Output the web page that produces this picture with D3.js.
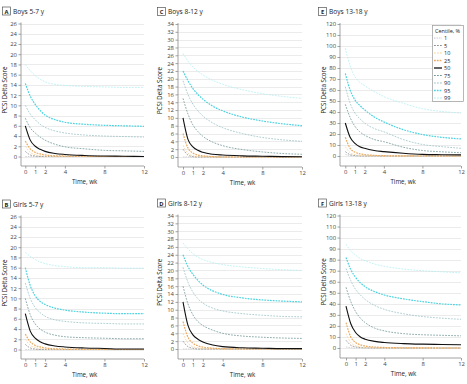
<!DOCTYPE html>
<html><head><meta charset="utf-8">
<script src="https://cdn.jsdelivr.net/npm/d3@7"></script>
<style>body{margin:0;background:#fff}svg{display:block}text{font-family:"Open Sans","Liberation Sans",sans-serif}</style>
</head><body><svg id="chart" width="467" height="384"></svg>
<script>
// ---- data ----
const weeks = [0, 0.5, 1, 1.5, 2, 3, 4, 6, 8, 10, 12];
const xTickValues = [0, 1, 2, 4, 8, 12];
const centiles = ["1", "5", "10", "25", "50", "75", "90", "95", "99"];
const ticksSmall = d3.range(0, 27, 2);   // 0..26
const ticksMid = d3.range(0, 35, 2);     // 0..34
const ticksLarge = d3.range(0, 121, 10); // 0..120

// each row: centile 1,5,10,25,50,75,90,95,99 at weeks above
const boys5to7 = [
  [0, 0, 0, 0, 0, 0, 0, 0, 0, 0, 0],
  [1, 0.3, 0.1, 0, 0, 0, 0, 0, 0, 0, 0],
  [2, 0.8, 0.35, 0.15, 0.05, 0, 0, 0, 0, 0, 0],
  [3, 1.5, 0.8, 0.5, 0.3, 0.15, 0.1, 0.05, 0, 0, 0],
  [6, 3.2, 2.0, 1.4, 1.0, 0.6, 0.4, 0.2, 0.1, 0.05, 0],
  [7.5, 5.6, 4.6, 3.8, 3.2, 2.4, 1.9, 1.5, 1.2, 1.1, 1.0],
  [10, 8.3, 7.2, 6.3, 5.7, 5.0, 4.6, 4.2, 4.0, 3.9, 3.8],
  [14.3, 11.8, 10.2, 9.0, 8.1, 7.2, 6.7, 6.3, 6.1, 6.0, 5.9],
  [18, 16.8, 15.8, 15.1, 14.6, 14.1, 13.9, 13.7, 13.6, 13.5, 13.5]
];
const girls5to7 = [
  [0, 0, 0, 0, 0, 0, 0, 0, 0, 0, 0],
  [1, 0.3, 0.1, 0, 0, 0, 0, 0, 0, 0, 0],
  [2, 0.8, 0.4, 0.2, 0.1, 0, 0, 0, 0, 0, 0],
  [3, 1.5, 0.8, 0.5, 0.3, 0.15, 0.1, 0.05, 0, 0, 0],
  [7, 3.6, 2.2, 1.5, 1.1, 0.7, 0.5, 0.3, 0.2, 0.1, 0.1],
  [10, 6.8, 5.0, 4.0, 3.4, 2.8, 2.5, 2.3, 2.2, 2.1, 2.1],
  [13, 10, 8.2, 7.2, 6.5, 5.8, 5.5, 5.2, 5.1, 5.0, 5.0],
  [16, 12.5, 10.5, 9.4, 8.8, 8.1, 7.7, 7.3, 7.1, 7.0, 7.0],
  [19, 18.2, 17.6, 17.1, 16.8, 16.4, 16.2, 16.0, 16.0, 15.9, 15.9]
];
const boys8to12 = [
  [0, 0, 0, 0, 0, 0, 0, 0, 0, 0, 0],
  [2, 0.5, 0.1, 0, 0, 0, 0, 0, 0, 0, 0],
  [3, 1.0, 0.3, 0.1, 0, 0, 0, 0, 0, 0, 0],
  [6, 2.3, 1.0, 0.5, 0.3, 0.1, 0, 0, 0, 0, 0],
  [10, 4.5, 2.6, 1.7, 1.2, 0.7, 0.5, 0.3, 0.2, 0.1, 0.05],
  [15, 11, 8.2, 6.5, 5.3, 3.8, 2.9, 1.9, 1.3, 0.9, 0.7],
  [19.5, 16, 13.5, 11.8, 10.5, 8.7, 7.5, 6.0, 5.0, 4.4, 4.0],
  [22, 19.5, 17.5, 16, 14.8, 13, 11.8, 10.2, 9.2, 8.5, 8.0],
  [26.5, 24.5, 23, 21.9, 21, 19.6, 18.6, 17.2, 16.2, 15.5, 15.0]
];
const girls8to12 = [
  [0, 0, 0, 0, 0, 0, 0, 0, 0, 0, 0],
  [2, 0.6, 0.2, 0, 0, 0, 0, 0, 0, 0, 0],
  [4, 1.5, 0.6, 0.3, 0.1, 0, 0, 0, 0, 0, 0],
  [7, 3, 1.5, 0.8, 0.5, 0.2, 0.1, 0, 0, 0, 0],
  [12, 6, 3.6, 2.5, 1.8, 1.0, 0.6, 0.3, 0.2, 0.1, 0.1],
  [16, 11.5, 8.7, 7.0, 6.0, 4.8, 4.0, 3.3, 3.0, 2.8, 2.7],
  [20.8, 17, 14.5, 12.8, 11.7, 10.4, 9.7, 9.0, 8.6, 8.3, 8.2],
  [24, 21, 19, 17.5, 16.3, 14.8, 13.9, 13, 12.5, 12.2, 12.0],
  [27, 25.5, 24.3, 23.4, 22.8, 22, 21.5, 20.9, 20.5, 20.2, 20]
];
const boys13to18 = [
  [1.5, 0.3, 0, 0, 0, 0, 0, 0, 0, 0, 0],
  [4, 1.2, 0.4, 0.1, 0, 0, 0, 0, 0, 0, 0],
  [8.5, 3, 1.2, 0.5, 0.2, 0, 0, 0, 0, 0, 0],
  [17, 7, 3.5, 2, 1.3, 0.6, 0.3, 0.1, 0, 0, 0],
  [30, 17, 11.5, 8.5, 7, 5, 4, 2.5, 1.5, 1.2, 1],
  [47, 35, 27, 22, 19, 15, 13, 8, 5, 3.8, 3],
  [63, 48, 39, 34, 30, 25, 22, 15, 10.5, 8.5, 7],
  [75, 60, 51, 46, 42, 35.5, 31, 24, 19.5, 17, 15.5],
  [98, 82, 72, 67, 64, 58.5, 54, 48, 43, 40.5, 39]
];
const girls13to18 = [
  [1, 0.3, 0, 0, 0, 0, 0, 0, 0, 0, 0],
  [7, 2.5, 1, 0.4, 0.2, 0, 0, 0, 0, 0, 0],
  [13, 5, 2, 1, 0.5, 0.2, 0.1, 0, 0, 0, 0],
  [23, 10, 5, 2.8, 1.8, 0.9, 0.5, 0.2, 0.1, 0, 0],
  [38, 22, 14, 10, 8, 6, 5, 4, 3.5, 3.2, 3],
  [55, 42, 33, 27, 23, 18, 15.5, 13, 12, 11.5, 11],
  [72, 61, 53, 48, 44, 38.5, 35, 31, 28.5, 27, 26],
  [82, 71, 64, 59, 55.5, 51, 48, 44.5, 42, 40, 39],
  [94, 88, 84, 81, 79, 76, 74, 71.5, 70, 69, 68]
];

// ---- styles ----
const lineColors = ["#c8c8c8", "#8f8f8f", "#f6d399", "#ebaa62", "#111111", "#729899", "#9cc3c6", "#4fd3e0", "#b3eff3"];
const lineWidths = [0.8, 0.8, 0.8, 1.2, 1.1, 0.8, 0.8, 1.2, 0.8];
const lineDash = ["1.5,1", "1.8,1.2", "1.8,1.2", "1.8,1", null, "1.8,1.2", "1.8,1.2", "1.8,1", "1.8,1.2"];

const svg = d3.select("#chart");

const panels = [
  {letter: "A", title: "Boys 5-7 y", data: boys5to7, ticks: ticksSmall, axisX: 21, x0: 25.3, x1: 144, top: 23.5, y0: 156.5, axisY: 166, labelX: 5, boxX: 2},
  {letter: "C", title: "Boys 8-12 y", data: boys8to12, ticks: ticksMid, axisX: 178, x0: 183, x1: 302, top: 24, y0: 157, axisY: 167, labelX: 160, boxX: 157},
  {letter: "E", title: "Boys 13-18 y", data: boys13to18, ticks: ticksLarge, axisX: 340, x0: 345.3, x1: 461, top: 24, y0: 156, axisY: 166, labelX: 324, boxX: 318, legend: true},
  {letter: "B", title: "Girls 5-7 y", data: girls5to7, ticks: ticksSmall, axisX: 21, x0: 25.3, x1: 144, top: 216.5, y0: 349.5, axisY: 359, labelX: 5, boxX: 2},
  {letter: "D", title: "Girls 8-12 y", data: girls8to12, ticks: ticksMid, axisX: 178, x0: 183, x1: 302, top: 215.5, y0: 349, axisY: 359, labelX: 160, boxX: 157},
  {letter: "F", title: "Girls 13-18 y", data: girls13to18, ticks: ticksLarge, axisX: 340, x0: 346, x1: 461, top: 215.5, y0: 348, axisY: 358, labelX: 324, boxX: 318}
];

panels.forEach(p => {
  const g = svg.append("g");
  const yMax = p.ticks[p.ticks.length - 1];
  const x = d3.scaleLinear().domain([0, 12]).range([p.x0, p.x1]);
  const y = d3.scaleLinear().domain([0, yMax]).range([p.y0, p.top]);

  // title
  const titleY = p.top - 12;
  g.append("rect").attr("x", p.boxX + 0.5).attr("y", titleY - 4.5).attr("width", 8).attr("height", 8)
    .attr("fill", "#fff").attr("stroke", "#555").attr("stroke-width", 0.7);
  g.append("text").attr("x", p.boxX + 4.5).attr("y", titleY + 2.2).attr("text-anchor", "middle")
    .attr("font-size", 5.8).attr("font-weight", "bold").attr("fill", "#222").text(p.letter);
  g.append("text").attr("x", p.boxX + 11).attr("y", titleY + 2.4)
    .attr("font-size", 6.6).attr("fill", "#222").text(p.title);

  // gridlines
  g.append("g").selectAll("line").data(p.ticks).join("line")
    .attr("x1", p.axisX).attr("x2", p.x1)
    .attr("y1", d => Math.round(y(d)) + 0.5).attr("y2", d => Math.round(y(d)) + 0.5)
    .attr("stroke", "#e6e6e6").attr("stroke-width", 0.8);

  // y axis
  const yAxis = d3.axisLeft(y).tickValues(p.ticks).tickSize(2.5).tickPadding(1.5).tickFormat(d3.format("d"));
  const ya = g.append("g").attr("transform", `translate(${p.axisX},0)`).call(yAxis);
  ya.select(".domain").remove();
  ya.append("line").attr("x1", 0).attr("x2", 0).attr("y1", p.top - 1).attr("y2", p.axisY).attr("stroke", "#8a8a8a").attr("stroke-width", 0.8);
  ya.selectAll(".tick line").attr("stroke", "#8a8a8a").attr("stroke-width", 0.8);
  ya.selectAll(".tick text").attr("font-size", 5.9).attr("fill", "#444").attr("font-family", "'Open Sans','Liberation Sans',sans-serif");

  // x axis
  const xAxis = d3.axisBottom(x).tickValues(xTickValues).tickSize(2.5).tickPadding(1.5).tickFormat(d3.format("d"));
  const xa = g.append("g").attr("transform", `translate(0,${p.axisY})`).call(xAxis);
  xa.select(".domain").remove();
  xa.append("line").attr("x1", p.axisX).attr("x2", p.x1).attr("y1", 0).attr("y2", 0).attr("stroke", "#8a8a8a").attr("stroke-width", 0.8);
  xa.selectAll(".tick line").attr("stroke", "#8a8a8a").attr("stroke-width", 0.8);
  xa.selectAll(".tick text").attr("font-size", 5.9).attr("fill", "#444").attr("font-family", "'Open Sans','Liberation Sans',sans-serif");

  // axis labels
  g.append("text").attr("transform", `translate(${p.labelX + 2},${(p.top + p.y0) / 2}) rotate(-90)`)
    .attr("text-anchor", "middle").attr("font-size", 6.2).attr("fill", "#222").text("PCSI Delta Score");
  g.append("text").attr("x", (p.x0 + p.x1) / 2).attr("y", p.axisY + 17.5)
    .attr("text-anchor", "middle").attr("font-size", 6.2).attr("fill", "#222").text("Time, wk");

  // curves
  const line = d3.line().x((d, i) => x(weeks[i])).y(d => y(d)).curve(d3.curveMonotoneX);
  p.data.forEach((vals, ci) => {
    g.append("path").attr("d", line(vals)).attr("fill", "none")
      .attr("stroke", lineColors[ci]).attr("stroke-width", lineWidths[ci])
      .attr("stroke-dasharray", lineDash[ci]);
  });

  // legend
  if (p.legend) {
    const lg = g.append("g");
    lg.append("rect").attr("x", 432.5).attr("y", 25.5).attr("width", 31).attr("height", 76)
      .attr("fill", "#fff").attr("stroke", "#999").attr("stroke-width", 0.7);
    lg.append("text").attr("x", 435).attr("y", 32.5).attr("font-size", 5.5).attr("fill", "#222").text("Centile, %");
    centiles.forEach((c, ci) => {
      const ly = 38 + ci * 7.5;
      lg.append("line").attr("x1", 434).attr("x2", 442).attr("y1", ly).attr("y2", ly)
        .attr("stroke", lineColors[ci]).attr("stroke-width", lineWidths[ci] + 0.2)
        .attr("stroke-dasharray", lineDash[ci]);
      lg.append("text").attr("x", 444).attr("y", ly + 2).attr("font-size", 5.5).attr("fill", "#222").text(c);
    });
  }
});
</script></body></html>
